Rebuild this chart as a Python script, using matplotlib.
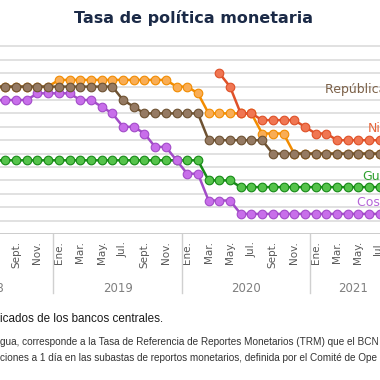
import numpy as np
import matplotlib.pyplot as plt
import matplotlib.transforms as mtransforms

# monthly data, Jul 2018 .. Aug 2021
months = ['Jul.', 'Ago.', 'Sept.', 'Oct.', 'Nov.', 'Dic.',
          'Ene.', 'Feb.', 'Mar.', 'Abr.', 'May.', 'Jun.', 'Jul.', 'Ago.', 'Sept.', 'Oct.', 'Nov.', 'Dic.',
          'Ene.', 'Feb.', 'Mar.', 'Abr.', 'May.', 'Jun.', 'Jul.', 'Ago.', 'Sept.', 'Oct.', 'Nov.', 'Dic.',
          'Ene.', 'Feb.', 'Mar.', 'Abr.', 'May.', 'Jun.', 'Jul.', 'Ago.']
years = ['2018', '2019', '2020', '2021']
year_start = [-6, 6, 18, 30]
year_end = [5, 17, 29, 37]

rep_dom = [5.5, 5.5, 5.5, 5.5, 5.5, 5.5, 5.5, 5.5, 5.5, 5.5, 5.5, 5.5,
           5.0, 4.75, 4.5, 4.5, 4.5, 4.5, 4.5, 4.5,
           3.5, 3.5, 3.5, 3.5, 3.5, 3.5,
           3.0, 3.0, 3.0, 3.0, 3.0, 3.0, 3.0, 3.0, 3.0, 3.0, 3.0, 3.0]
honduras = [5.5, 5.5, 5.5, 5.5, 5.5, 5.5,
            5.75, 5.75, 5.75, 5.75, 5.75, 5.75, 5.75, 5.75, 5.75, 5.75, 5.75,
            5.5, 5.5, 5.25, 4.5, 4.5, 4.5, 4.5, 4.5,
            3.75, 3.75, 3.75,
            3.0, 3.0, 3.0, 3.0, 3.0, 3.0, 3.0, 3.0, 3.0, 3.0]
nicaragua = [np.nan] * 21 + [6.0, 5.5, 4.5, 4.5, 4.25, 4.25, 4.25, 4.25, 4.0,
                             3.75, 3.75, 3.5, 3.5, 3.5, 3.5, 3.5, 3.5]
guatemala = [2.75] * 20 + [2.0, 2.0, 2.0] + [1.75] * 15
costa_rica = [5.0, 5.0, 5.0, 5.0, 5.25, 5.25, 5.25, 5.25, 5.0, 5.0,
              4.75, 4.5, 4.0, 4.0, 3.75, 3.25, 3.25, 2.75, 2.25, 2.25,
              1.25, 1.25, 1.25] + [0.75] * 15

x = np.arange(len(months))

fig = plt.figure(figsize=(3.8, 3.8), dpi=100)
# chart is cropped: the axes runs past the left and right edges of the figure
ax = fig.add_axes([-0.1972, 0.3842, 1.2389, 0.4972])
ax.set_xlim(-6.5, 37.5)
ax.set_ylim(0, 7.05)

ax.set_yticks(np.arange(0.5, 7.01, 0.5))
ax.yaxis.grid(True, color='#d9d9d9', lw=1.1)
ax.set_axisbelow(True)
ax.tick_params(axis='y', length=0, labelleft=False)
for s in ax.spines.values():
    s.set_visible(False)
ax.axhline(0, color='#bfbfbf', lw=1.1)

series = [
    (honduras, '#f28c00', '#f9ad55'),
    (guatemala, '#178a17', '#55c34b'),
    (costa_rica, '#a24cc8', '#c86eea'),
    (rep_dom, '#6e5232', '#957a63'),
    (nicaragua, '#df5128', '#f07652'),
]
for vals, lc, fc in series:
    ax.plot(x, vals, color=lc, lw=1.8, marker='o', ms=6.2,
            markerfacecolor=fc, markeredgecolor=lc, markeredgewidth=0.8)

# month ticks
tick_idx = [i for i in range(0, len(months), 2)]
ax.set_xticks(tick_idx)
ax.set_xticklabels([months[i] for i in tick_idx], rotation=90,
                   fontsize=7.5, color='#595959')
ax.tick_params(axis='x', length=0, pad=5)

trans = mtransforms.blended_transform_factory(ax.transData, ax.transAxes)
for yr, a, b in zip(years, year_start, year_end):
    ax.text((a + b) / 2, -0.287, yr, transform=trans, ha='center', va='center',
            fontsize=8.5, color='#7f7f7f')
    ax.plot([a - 0.5, a - 0.5], [0, -0.313], transform=trans, color='#d0d0d0',
            lw=1, clip_on=False)

# country labels
ax.text(30.88, 5.41, 'República Dominicana', color='#7b6047', fontsize=9, va='center')
ax.text(34.9, 3.92, 'Nicaragua', color='#e8663a', fontsize=9, va='center')
ax.text(34.4, 2.16, 'Guatemala', color='#2ea02e', fontsize=9, va='center')
ax.text(33.9, 1.19, 'Costa Rica', color='#b565d8', fontsize=9, va='center')

fig.text(0.509, 0.953, 'Tasa de política monetaria', ha='center', va='center',
         fontsize=11.5, fontweight='bold', color='#1b2a47')

fig.text(0.0, 1 - 319 / 380, 'icados de los bancos centrales.', ha='left', va='center',
         fontsize=8.4, color='#1a1a1a', family='Liberation Sans')
fig.text(0.0, 1 - 341.7 / 380,
         'gua, corresponde a la Tasa de Referencia de Reportes Monetarios (TRM) que el BCN',
         ha='left', va='center', fontsize=7.2, color='#333333', family='Liberation Sans')
fig.text(0.0, 1 - 357.7 / 380,
         'ciones a 1 día en las subastas de reportos monetarios, definida por el Comité de Ope',
         ha='left', va='center', fontsize=7.2, color='#333333', family='Liberation Sans')

fig.savefig('out.png', dpi=100)
